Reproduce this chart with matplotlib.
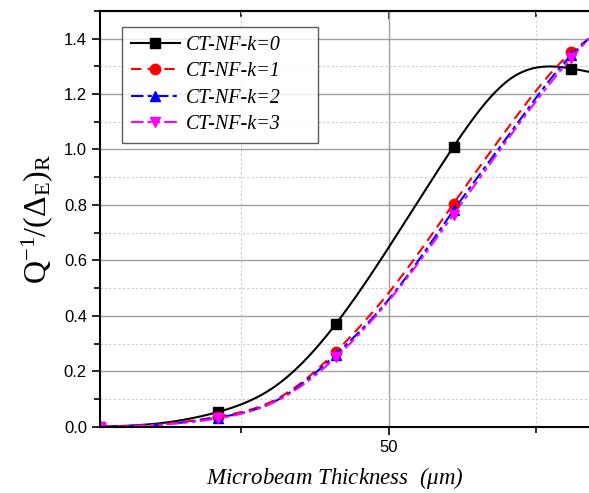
import numpy as np
import matplotlib.pyplot as plt
from matplotlib.ticker import MultipleLocator, NullFormatter

plt.rcParams['font.family'] = 'Liberation Sans'
plt.rcParams['mathtext.fontset'] = 'custom'
plt.rcParams['mathtext.rm'] = 'Liberation Serif'
plt.rcParams['mathtext.it'] = 'Liberation Serif:italic'

# Microbeam thickness (um) and normalised damping for each gradient index
thickness = [1, 11, 21, 31, 41, 51, 61, 71, 81, 84]
q_k0 = [0.0, 0.012, 0.053, 0.15, 0.37, 0.68, 1.01, 1.26, 1.292, 1.28]
q_k1 = [0.0, 0.008, 0.036, 0.10, 0.27, 0.51, 0.805, 1.10, 1.35, 1.40]
q_k2 = [0.0, 0.007, 0.033, 0.095, 0.26, 0.485, 0.78, 1.07, 1.34, 1.40]
q_k3 = [0.0, 0.007, 0.030, 0.093, 0.25, 0.48, 0.765, 1.06, 1.33, 1.40]
labels = ["CT-NF-k=0", "CT-NF-k=1", "CT-NF-k=2", "CT-NF-k=3"]
marker_at = [1, 21, 41, 61, 81]


def natural_spline(x, y, xs):
    x = np.asarray(x, float)
    y = np.asarray(y, float)
    n = len(x)
    h = np.diff(x)
    A = np.zeros((n, n))
    b = np.zeros(n)
    A[0, 0] = A[-1, -1] = 1.0
    for i in range(1, n - 1):
        A[i, i - 1] = h[i - 1]
        A[i, i] = 2 * (h[i - 1] + h[i])
        A[i, i + 1] = h[i]
        b[i] = 3 * ((y[i + 1] - y[i]) / h[i] - (y[i] - y[i - 1]) / h[i - 1])
    c = np.linalg.solve(A, b)
    bb = (y[1:] - y[:-1]) / h - h * (2 * c[:-1] + c[1:]) / 3
    d = (c[1:] - c[:-1]) / (3 * h)
    j = np.clip(np.searchsorted(x, xs) - 1, 0, n - 2)
    t = xs - x[j]
    return y[j] + bb[j] * t + c[j] * t ** 2 + d[j] * t ** 3


xs = np.round(np.arange(1, 84.05, 0.1), 2)
mark_idx = [int(np.argmin(np.abs(xs - m))) for m in marker_at]

fig = plt.figure(figsize=(5.89, 4.93), dpi=100)
ax = fig.add_axes([0.170, 0.1345, 0.830, 0.8435])

styles = [
    dict(color='black', ls='-', marker='s'),
    dict(color='#ff0000', ls=(0, (5, 3)), marker='o'),
    dict(color='#0000ff', ls=(0, (6, 2, 2, 2)), marker='^'),
    dict(color='#ff00ff', ls=(0, (6, 2, 2, 2, 2, 2)), marker='v'),
]
for ys, lab, st in zip([q_k0, q_k1, q_k2, q_k3], labels, styles):
    ax.plot(xs, natural_spline(thickness, ys, xs), color=st['color'],
            linestyle=st['ls'], marker=st['marker'], markevery=mark_idx,
            markersize=7.5, linewidth=1.5, label=lab)

ax.set_xlim(1, 84)
ax.set_ylim(0, 1.5)
ax.set_xticks([50])
ax.set_xticks([25, 75], minor=True)
ax.yaxis.set_major_locator(MultipleLocator(0.2))
ax.yaxis.set_minor_locator(MultipleLocator(0.1))
ax.set_yticks(np.arange(0, 1.41, 0.2))

ax.grid(which='major', color='#a0a0a0', linewidth=1.0)
ax.grid(which='minor', color='#cccccc', linestyle=(0, (2, 2)), linewidth=0.8)
ax.set_axisbelow(True)

for s in ['left', 'top', 'bottom']:
    ax.spines[s].set_linewidth(1.5)
ax.spines['right'].set_visible(False)
ax.tick_params(which='both', direction='out', width=1.2, labelsize=12)
ax.tick_params(which='major', length=6)
ax.tick_params(which='minor', length=4)

# inward ticks along the top edge
top = ax.secondary_xaxis('top')
top.set_xticks([50])
top.set_xticks([25, 75], minor=True)
top.xaxis.set_major_formatter(NullFormatter())
top.tick_params(which='both', direction='in', width=1.2)
top.tick_params(which='major', length=6)
top.tick_params(which='minor', length=4)
top.spines['top'].set_linewidth(1.5)

ax.set_xlabel('Microbeam Thickness  ($\\mu m$)', fontsize=16.5,
              family='Liberation Serif', style='italic', labelpad=7)
ax.xaxis.label.set_x(0.481)
ax.set_ylabel(r'$\mathrm{Q^{-1}/(\Delta_E)_R}$', fontsize=23, labelpad=6)

leg = ax.legend(loc='upper left', bbox_to_anchor=(0.045, 0.5, 0.401, 0.4615),
                mode='expand',
                prop={'family': 'Liberation Serif', 'style': 'italic', 'size': 14.5},
                fancybox=False, handlelength=2.4, labelspacing=0.36,
                borderpad=0.45, handletextpad=0.3, borderaxespad=0)
leg.get_frame().set_edgecolor('#333333')
leg.get_frame().set_linewidth(1.0)

fig.savefig('out.png', dpi=100)
